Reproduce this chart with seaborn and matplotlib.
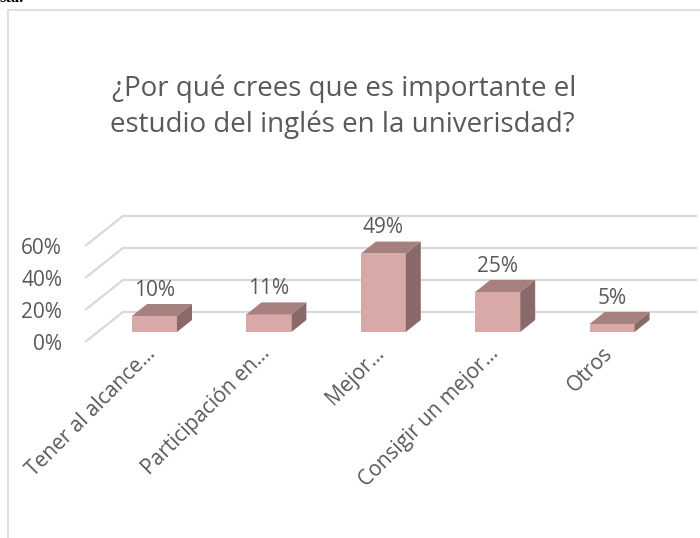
import matplotlib
matplotlib.use("Agg")
import matplotlib.pyplot as plt
import seaborn as sns
import pandas as pd
from matplotlib.patches import Polygon, Rectangle

# data
categories = ["Tener al alcance…", "Participación en…", "Mejor…",
              "Consigir un mejor…", "Otros"]
values = [10, 11, 49, 25, 5]
y_ticks = [0, 20, 40, 60]
y_tick_labels = ["0%", "20%", "40%", "60%"]
title_1 = "¿Por qué crees que es importante el"
title_2 = "estudio del inglés en la univerisdad?"

FRONT = "#D8A9A6"
TOP = "#A6807E"
SIDE = "#8A6A69"
GRID = "#D9D9D9"
TEXT = "#595959"

sns.set_theme(style="white")
plt.rcParams["font.family"] = ["Open Sans", "DejaVu Sans"]

W, H = 700, 538
fig = plt.figure(figsize=(W / 100, H / 100), dpi=100)
ax = fig.add_axes([0, 0, 1, 1])

df = pd.DataFrame({"cat": categories, "val": values})
sns.barplot(data=df, x="cat", y="val", color=FRONT, saturation=1,
            width=0.393, linewidth=0, ax=ax, zorder=3)

# pixel layout -> data units (1 category = 114.4 px, 1 % = 1.6 px)
x_per_px, y_per_px = 1 / 114.4, 1 / 1.6
ax.set_xlim(-154.5 * x_per_px, (W - 154.5) * x_per_px)
ax.set_ylim((332 - H) * y_per_px, 332 * y_per_px)
ax.axis("off")

# floor / back wall gridlines (fake 3d)
floor_x0, floor_y0 = -69.5 * x_per_px, -10 * y_per_px
wall_dx, wall_dy = 38 * x_per_px, 30 * y_per_px
right_end = (697 - 154.5) * x_per_px
for t in y_ticks:
    ax.plot([floor_x0, floor_x0 + wall_dx, right_end],
            [t + floor_y0, t + floor_y0 + wall_dy, t + floor_y0 + wall_dy],
            color=GRID, lw=1.6, zorder=1, solid_capstyle="butt")

# bar tops and sides
bar_dx, bar_dy = 15 * x_per_px, 12 * y_per_px
for p in list(ax.patches):
    x0, w, h = p.get_x(), p.get_width(), p.get_height()
    ax.add_patch(Polygon([(x0, h), (x0 + bar_dx, h + bar_dy),
                          (x0 + w + bar_dx, h + bar_dy), (x0 + w, h)],
                         closed=True, color=TOP, lw=0, zorder=3))
    ax.add_patch(Polygon([(x0 + w, 0), (x0 + w, h),
                          (x0 + w + bar_dx, h + bar_dy), (x0 + w + bar_dx, bar_dy)],
                         closed=True, color=SIDE, lw=0, zorder=3))
    ax.text(x0 + w / 2, h + bar_dy + 14 * y_per_px, f"{h:.0f}%",
            ha="center", va="center", fontsize=15, color=TEXT, zorder=4)

# y tick labels
for t, lab in zip(y_ticks, y_tick_labels):
    ax.text(-92.5 * x_per_px, t - 8, lab, ha="right", va="center",
            fontsize=15, color=TEXT)

# category labels
for i, cat in enumerate(categories):
    ax.text(i + 5 * x_per_px, -11 * y_per_px, cat, rotation=45,
            ha="right", va="top", fontsize=15, color=TEXT)

fig.text(344 / W, 1 - 96 / H, title_1, ha="center", va="baseline",
         fontsize=20, color=TEXT)
fig.text(342 / W, 1 - 132 / H, title_2, ha="center", va="baseline",
         fontsize=20, color=TEXT)

# leftover text from the page above the chart
fig.text(0, 1 - 2 / H, "sta.", ha="left", va="baseline", fontsize=12,
         fontweight="bold", family=["Liberation Serif", "DejaVu Serif"],
         color="black")

fig.patches.append(Rectangle((8 / W, -0.1), 1.2, 1.1 - 10 / H, fill=False,
                             edgecolor=GRID, lw=1.2, transform=fig.transFigure))

fig.savefig("out.png", dpi=100)
